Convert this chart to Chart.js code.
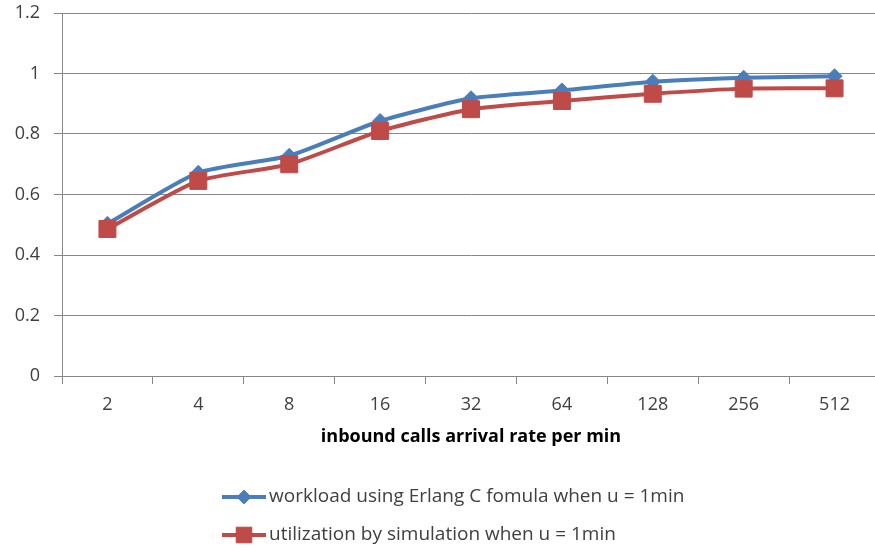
<!DOCTYPE html>
<html>
<head>
<meta charset="utf-8">
<script src="https://cdn.jsdelivr.net/npm/chart.js@4/dist/chart.umd.min.js"></script>
<style>
  html, body { margin: 0; padding: 0; background: #fff; overflow: hidden; }
  #wrap { position: relative; width: 893px; height: 548px; }
</style>
</head>
<body>
<div id="wrap"><canvas id="c"></canvas></div>
<script>
// Arrival rates (calls per minute) on the category axis
const arrivalRates = ['2', '4', '8', '16', '32', '64', '128', '256', '512'];
// Workload from the Erlang C formula, u = 1 min
const erlangWorkload = [0.503, 0.672, 0.728, 0.843, 0.918, 0.944, 0.973, 0.986, 0.991];
// Utilization measured by simulation, u = 1 min
const simUtilization = [0.486, 0.645, 0.700, 0.810, 0.882, 0.909, 0.933, 0.950, 0.951];
// Value axis ticks
const yTicks = [0, 0.2, 0.4, 0.6, 0.8, 1, 1.2];

const seriesNames = [
  'workload using Erlang C fomula when u = 1min',
  'utilization by simulation when u = 1min'
];

const FONT = '"Open Sans", "Noto Sans", sans-serif';
const TEXT = '#404040';
const GRID = '#878787';
const BLUE = '#4A7EBB';
const RED = '#BE4B48';

// Legend below the axis title: a short line sample with the marker, then the label
const lineLegend = {
  id: 'lineLegend',
  afterDraw(chart) {
    const ctx = chart.ctx;
    const rows = [497, 535];
    const x0 = 222, x1 = 266;
    chart.data.datasets.forEach((ds, i) => {
      const y = rows[i];
      ctx.save();
      ctx.strokeStyle = ds.borderColor;
      ctx.lineWidth = ds.borderWidth;
      ctx.beginPath();
      ctx.moveTo(x0, y);
      ctx.lineTo(x1, y);
      ctx.stroke();
      ctx.fillStyle = ds.pointBackgroundColor;
      ctx.strokeStyle = ds.pointBorderColor;
      ctx.lineWidth = 1;
      Chart.helpers.drawPoint(ctx, {
        pointStyle: ds.pointStyle,
        radius: ds.pointRadius * 0.92,
        borderWidth: 1,
        rotation: 0
      }, (x0 + x1) / 2, y);
      ctx.fillStyle = TEXT;
      ctx.font = '19px ' + FONT;
      ctx.textBaseline = 'middle';
      ctx.textAlign = 'left';
      ctx.fillText(ds.label, x1 + 3, y);
      ctx.restore();
    });
  }
};

new Chart(document.getElementById('c'), {
  type: 'line',
  data: {
    labels: arrivalRates,
    datasets: [
      {
        label: seriesNames[0],
        data: erlangWorkload,
        borderColor: BLUE,
        backgroundColor: BLUE,
        pointBackgroundColor: BLUE,
        pointBorderColor: BLUE,
        borderWidth: 4,
        pointStyle: 'rectRot',
        pointRadius: 7.5,
        pointBorderWidth: 1,
        tension: 0.2,
        order: 1
      },
      {
        label: seriesNames[1],
        data: simUtilization,
        borderColor: RED,
        backgroundColor: RED,
        pointBackgroundColor: RED,
        pointBorderColor: RED,
        borderWidth: 4,
        pointStyle: 'rect',
        pointRadius: 12,
        pointBorderWidth: 1,
        tension: 0.2,
        order: 0
      }
    ]
  },
  options: {
    responsive: true,
    maintainAspectRatio: false,
    animation: false,
    layout: { padding: { left: 0, right: 0, top: 0, bottom: 0 } },
    plugins: {
      legend: { display: false },
      tooltip: { enabled: false }
    },
    scales: {
      x: {
        offset: true,
        grid: {
          offset: true,
          drawOnChartArea: false,
          drawTicks: true,
          tickLength: 8,
          color: GRID
        },
        border: { color: GRID, width: 1 },
        ticks: {
          color: TEXT,
          font: { family: FONT, size: 18 },
          padding: 10,
          maxRotation: 0
        },
        title: {
          display: true,
          text: 'inbound calls arrival rate per min',
          color: '#000',
          font: { family: FONT, size: 18, weight: 'bold' },
          padding: { top: 6, bottom: 100 }
        },
        afterFit(scale) { scale.height = 172; }
      },
      y: {
        min: 0,
        max: 1.2,
        afterBuildTicks(scale) { scale.ticks = yTicks.map(v => ({ value: v })); },
        grid: {
          color: GRID,
          tickLength: 8,
          drawTicks: true
        },
        border: { color: GRID, width: 1 },
        ticks: {
          color: TEXT,
          font: { family: FONT, size: 18 },
          padding: 14,
          callback: v => String(v)
        },
        afterFit(scale) {
          scale.width = 62;
          scale.paddingTop = 12;
        }
      }
    }
  },
  plugins: [lineLegend]
});
</script>
</body>
</html>
